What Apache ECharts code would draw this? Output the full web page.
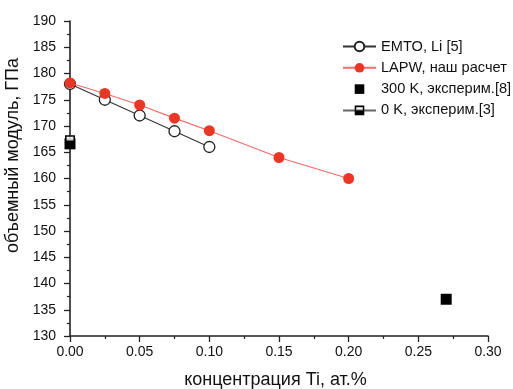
<!DOCTYPE html>
<html>
<head>
<meta charset="utf-8">
<script src="https://cdn.jsdelivr.net/npm/echarts@6/dist/echarts.min.js"></script>
<style>
  html, body { margin: 0; padding: 0; background: #fff; }
  #chart { width: 513px; height: 389px; }
</style>
</head>
<body>
<div id="chart"></div>
<script>
// Bulk modulus vs Ti concentration
const emtoX = [0, 0.025, 0.05, 0.075, 0.1];
const emtoY = [178, 175, 172, 169, 166];
const lapwX = [0, 0.025, 0.05, 0.075, 0.1, 0.15, 0.2];
const lapwY = [178.2, 176.2, 174, 171.5, 169.1, 164, 160];
const exp300X = [0, 0.27];
const exp300Y = [166.6, 137];
const exp0X = [0];
const exp0Y = [167.3];

const seriesNames = ['EMTO, Li [5]', 'LAPW, наш расчет', '300 K, эксперим.[8]', '0 K, эксперим.[3]'];
const xTitle = 'концентрация Ti, ат.%';
const yTitle = 'объемный модуль, ГПа';

const zip = (xs, ys) => xs.map((x, i) => [x, ys[i]]);

// square outline with the bottom half solid (top half is a hole)
const halfSquare = 'path://M0,0 L10,0 L10,10 L0,10 Z M1.6,1.6 L1.6,5.2 L8.4,5.2 L8.4,1.6 Z';

const font = 'Liberation Sans, Arial, sans-serif';
const chart = echarts.init(document.getElementById('chart'));
chart.setOption({
  animation: false,
  backgroundColor: '#fff',
  textStyle: { fontFamily: font },
  grid: { left: 70, right: 25, top: 21, bottom: 53, containLabel: false, outerBoundsMode: 'none' },
  legend: {
    data: seriesNames,
    orient: 'vertical',
    left: 337,
    top: 34,
    itemWidth: 33,
    itemHeight: 12,
    itemGap: 6.3,
    textStyle: { fontSize: 14.6, lineHeight: 12, color: '#111', fontFamily: font }
  },
  xAxis: {
    type: 'value',
    min: 0, max: 0.3, interval: 0.05,
    name: xTitle,
    nameLocation: 'middle',
    nameGap: 35,
    nameTextStyle: { fontSize: 18, color: '#111', padding: [0, 7, 0, 0] },
    axisLine: { onZero: false, lineStyle: { color: '#222', width: 1.6 } },
    axisTick: { show: true, length: 6, lineStyle: { color: '#222', width: 1.3 } },
    minorTick: { show: true, splitNumber: 2, length: 3, lineStyle: { color: '#222', width: 1.2 } },
    splitLine: { show: false },
    axisLabel: { fontSize: 14, color: '#111', margin: 9, formatter: v => v.toFixed(2) }
  },
  yAxis: {
    type: 'value',
    min: 130, max: 190, interval: 5,
    offset: 3,
    name: yTitle,
    nameLocation: 'middle',
    nameGap: 40,
    nameTextStyle: { fontSize: 18, color: '#111', padding: [0, 0, 0, 46] },
    axisLine: { show: true, lineStyle: { color: '#222', width: 1.6 } },
    axisTick: { show: true, length: 6, lineStyle: { color: '#222', width: 1.3 } },
    minorTick: { show: true, splitNumber: 2, length: 3, lineStyle: { color: '#222', width: 1.2 } },
    splitLine: { show: false },
    axisLabel: { fontSize: 14, color: '#111', margin: 11 }
  },
  series: [
    {
      name: seriesNames[0],
      type: 'line',
      data: zip(emtoX, emtoY),
      symbol: 'circle',
      symbolSize: 11,
      clip: false,
      z: 3,
      lineStyle: { color: '#333', width: 1.1 },
      itemStyle: { color: '#fff', borderColor: '#222', borderWidth: 1.3 }
    },
    {
      name: seriesNames[1],
      type: 'line',
      data: zip(lapwX, lapwY),
      symbol: 'circle',
      symbolSize: 11,
      clip: false,
      z: 4,
      lineStyle: { color: '#f26b6b', width: 1.2 },
      itemStyle: { color: '#ee3524', borderWidth: 0 }
    },
    {
      name: seriesNames[2],
      type: 'line',
      data: zip(exp300X, exp300Y),
      symbol: 'rect',
      symbolSize: 11,
      clip: false,
      z: 2,
      lineStyle: { opacity: 0, width: 0 },
      itemStyle: { color: '#000' }
    },
    {
      // white backing so the hollow half of the 0 K marker stays white
      type: 'scatter',
      data: zip(exp0X, exp0Y),
      symbol: 'rect',
      symbolSize: 9,
      clip: false,
      z: 2.5,
      silent: true,
      itemStyle: { color: '#fff' }
    },
    {
      name: seriesNames[3],
      type: 'line',
      data: zip(exp0X, exp0Y),
      symbol: halfSquare,
      symbolSize: 10,
      clip: false,
      z: 3,
      lineStyle: { color: '#666', width: 1.3 },
      itemStyle: { color: '#000' }
    }
  ]
});
</script>
</body>
</html>
